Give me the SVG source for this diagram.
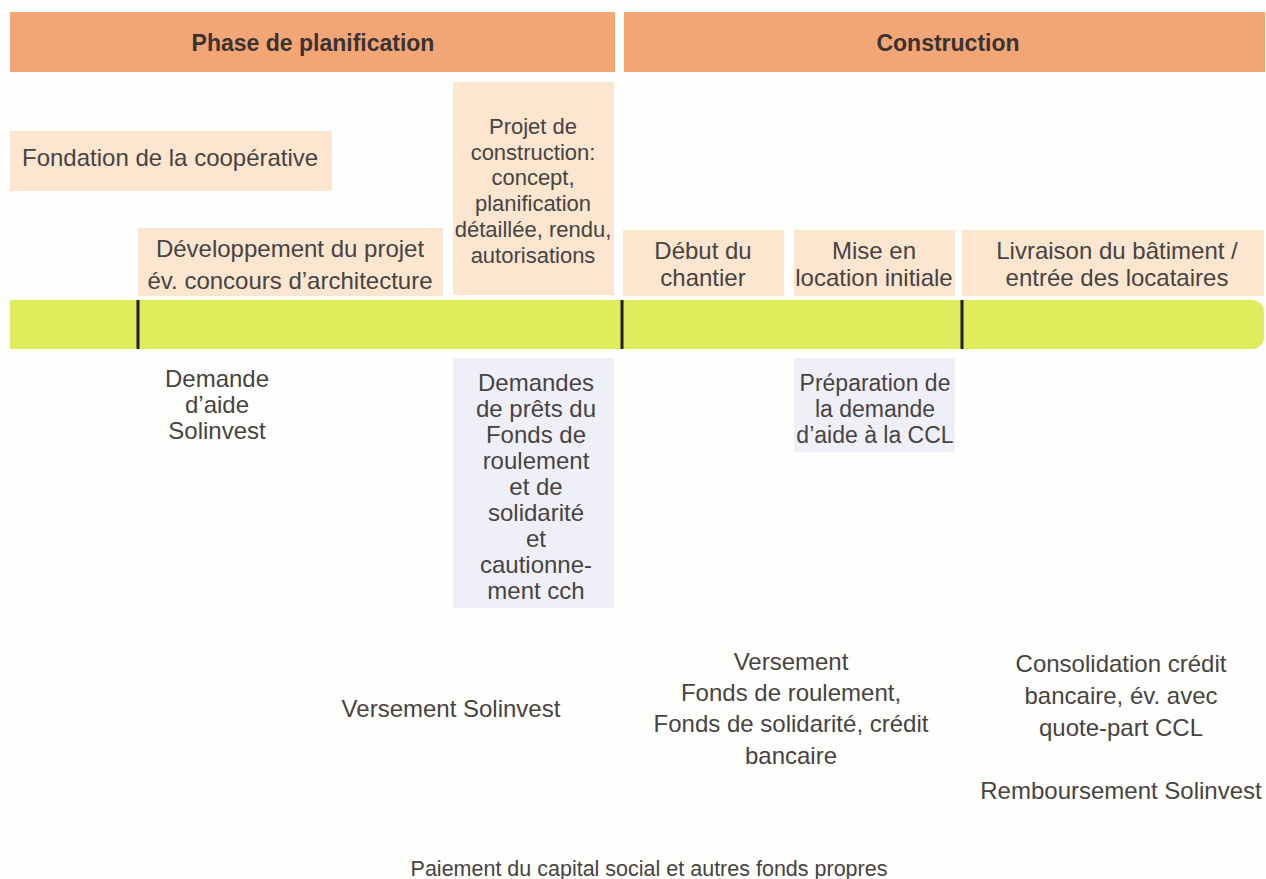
<svg xmlns="http://www.w3.org/2000/svg" width="1266" height="879" viewBox="0 0 1266 879">
<style>
.hdr{fill:#f2a676}
.peach{fill:#fce6cf}
.lav{fill:#efeff8}
.t{font-family:"Liberation Sans",Arial,sans-serif;font-size:24px;fill:#474343;text-anchor:middle}
.tl{text-anchor:start}
.m{font-size:22px}
.n{font-size:23px}
.h{font-family:"Liberation Sans",Arial,sans-serif;font-size:23px;font-weight:bold;fill:#3a3331;text-anchor:middle}
.s{font-size:21.5px}
.tick{stroke:#1e1e1e;stroke-width:3}
</style>
<rect width="1266" height="879" fill="#fefefc"/>
<g id="header-planification">
<rect class="hdr" x="10" y="12" width="605" height="60"/>
<text class="h" x="313" y="51">Phase de planification</text>
</g>
<g id="header-construction">
<rect class="hdr" x="624" y="12" width="641" height="60"/>
<text class="h" x="948" y="51">Construction</text>
</g>
<g id="fondation">
<rect class="peach" x="10" y="131" width="322" height="60"/>
<text class="t tl" x="22" y="166">Fondation de la coopérative</text>
</g>
<g id="developpement">
<rect class="peach" x="138" y="228" width="305" height="68"/>
<text class="t" x="290" y="257">Développement du projet</text>
<text class="t" x="290" y="289">év. concours d’architecture</text>
</g>
<g id="projet-construction">
<rect class="peach" x="453" y="82" width="161" height="213"/>
<text class="t m" x="533" y="134">Projet de</text>
<text class="t m" x="533" y="160">construction:</text>
<text class="t m" x="533" y="185">concept,</text>
<text class="t m" x="533" y="211">planification</text>
<text class="t m" x="533" y="237">détaillée, rendu,</text>
<text class="t m" x="533" y="263">autorisations</text>
</g>
<g id="debut-chantier">
<rect class="peach" x="623" y="230" width="161" height="66"/>
<text class="t" x="703" y="259">Début du</text>
<text class="t" x="703" y="286">chantier</text>
</g>
<g id="mise-en-location">
<rect class="peach" x="794" y="230" width="161" height="66"/>
<text class="t" x="874" y="259">Mise en</text>
<text class="t" x="874" y="286">location initiale</text>
</g>
<g id="livraison">
<rect class="peach" x="962" y="230" width="302" height="66"/>
<text class="t" x="1117" y="259">Livraison du bâtiment /</text>
<text class="t" x="1117" y="286">entrée des locataires</text>
</g>
<g id="timeline">
<path d="M10 300 H1252 a12 12 0 0 1 12 12 V337 a12 12 0 0 1 -12 12 H10 Z" fill="#e0ec5c"/>
<line class="tick" x1="138" y1="300" x2="138" y2="349"/>
<line class="tick" x1="622" y1="300" x2="622" y2="349"/>
<line class="tick" x1="962" y1="300" x2="962" y2="349"/>
</g>
<g id="demande-solinvest">
<text class="t" x="217" y="387">Demande</text>
<text class="t" x="217" y="413">d’aide</text>
<text class="t" x="217" y="439">Solinvest</text>
</g>
<g id="demandes-prets">
<rect class="lav" x="453" y="358" width="161" height="250"/>
<text class="t" x="536" y="391">Demandes</text>
<text class="t" x="536" y="417">de prêts du</text>
<text class="t" x="536" y="443">Fonds de</text>
<text class="t" x="536" y="469">roulement</text>
<text class="t" x="536" y="495">et de</text>
<text class="t" x="536" y="521">solidarité</text>
<text class="t" x="536" y="547">et</text>
<text class="t" x="536" y="573">cautionne-</text>
<text class="t" x="536" y="599">ment cch</text>
</g>
<g id="preparation-ccl">
<rect class="lav" x="794" y="358" width="161" height="94"/>
<text class="t n" x="875" y="391">Préparation de</text>
<text class="t n" x="875" y="417">la demande</text>
<text class="t n" x="875" y="443">d’aide à la CCL</text>
</g>
<g id="versement-solinvest">
<text class="t" x="451" y="717">Versement Solinvest</text>
</g>
<g id="versement-fonds">
<text class="t" x="791" y="670">Versement</text>
<text class="t" x="791" y="701">Fonds de roulement,</text>
<text class="t" x="791" y="732">Fonds de solidarité, crédit</text>
<text class="t" x="791" y="764">bancaire</text>
</g>
<g id="consolidation">
<text class="t" x="1121" y="672">Consolidation crédit</text>
<text class="t" x="1121" y="704">bancaire, év. avec</text>
<text class="t" x="1121" y="736">quote-part CCL</text>
</g>
<g id="remboursement">
<text class="t" x="1121" y="799">Remboursement Solinvest</text>
</g>
<g id="paiement">
<text class="t s" x="649" y="876">Paiement du capital social et autres fonds propres</text>
</g>
<g id="connectors"></g>
</svg>
